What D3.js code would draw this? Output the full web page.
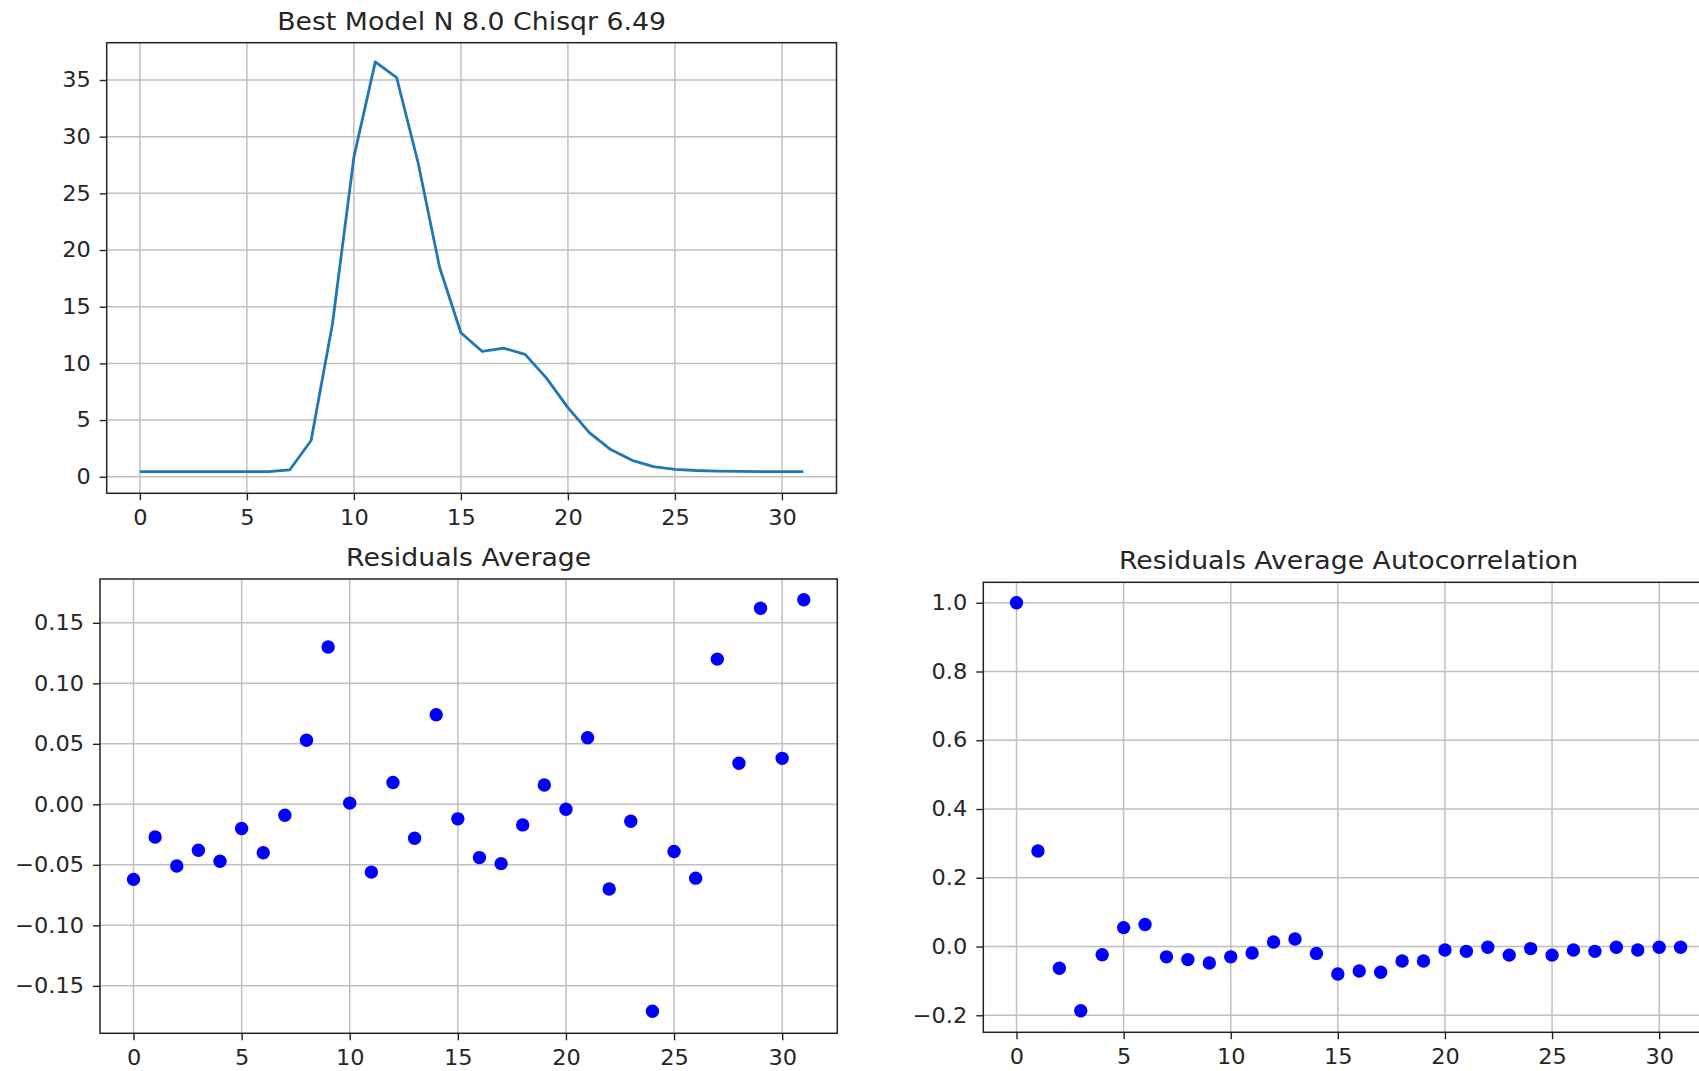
<!DOCTYPE html>
<html>
<head>
<meta charset="utf-8">
<script src="https://cdn.jsdelivr.net/npm/d3@7"></script>
<style>
  html, body { margin: 0; padding: 0; background: #fff; }
  svg { display: block; }
  text { font-family: "DejaVu Sans", sans-serif; fill: #262626; }
</style>
</head>
<body>
<div id="chart"></div>
<script>
// best model curve, index 0..31
const modelValues = [0.45, 0.45, 0.45, 0.45, 0.45, 0.45, 0.45, 0.6, 3.2, 13.5,
    28.2, 36.6, 35.2, 27.7, 18.5, 12.7, 11.05, 11.35, 10.8, 8.7,
    6.1, 3.9, 2.4, 1.45, 0.9, 0.65, 0.55, 0.5, 0.47, 0.45, 0.45, 0.45];

const residuals = [-0.062, -0.027, -0.051, -0.038, -0.047, -0.020, -0.040, -0.009, 0.053, 0.130,
    0.001, -0.056, 0.018, -0.028, 0.074, -0.012, -0.044, -0.049, -0.017, 0.016,
    -0.004, 0.055, -0.070, -0.014, -0.171, -0.039, -0.061, 0.120, 0.034, 0.162,
    0.038, 0.169];

const autocorr = [1.0, 0.278, -0.063, -0.187, -0.024, 0.055, 0.064, -0.030, -0.038, -0.048,
    -0.030, -0.019, 0.013, 0.022, -0.020, -0.080, -0.071, -0.075, -0.042, -0.042,
    -0.010, -0.014, -0.002, -0.025, -0.006, -0.025, -0.010, -0.014, -0.002, -0.010,
    -0.002, -0.002];

const xTicks = [0, 5, 10, 15, 20, 25, 30];
const modelTicks = [0, 5, 10, 15, 20, 25, 30, 35];
const residTicks = [-0.15, -0.10, -0.05, 0.00, 0.05, 0.10, 0.15];
const autoTicks = [-0.2, 0.0, 0.2, 0.4, 0.6, 0.8, 1.0];

const W = 1699, H = 1071;
const stretch = 1.07; // the reference text is a little wide
const svg = d3.select("#chart").append("svg")
    .attr("width", W)
    .attr("height", H);

function panel(box, title, xDomain, yDomain, yTicks, yFmt) {
    const g = svg.append("g");
    const x = d3.scaleLinear().domain(xDomain).range([box.left, box.right]);
    const y = d3.scaleLinear().domain(yDomain).range([box.bottom, box.top]);

    // grid
    g.append("g").selectAll("line").data(xTicks).join("line")
        .attr("x1", d => x(d)).attr("x2", d => x(d))
        .attr("y1", box.top).attr("y2", box.bottom)
        .attr("stroke", "#c0c0c0").attr("stroke-width", 1.5);
    g.append("g").selectAll("line").data(yTicks).join("line")
        .attr("x1", box.left).attr("x2", box.right)
        .attr("y1", d => y(d)).attr("y2", d => y(d))
        .attr("stroke", "#c0c0c0").attr("stroke-width", 1.5);

    const xa = g.append("g")
        .attr("transform", `translate(0, ${box.bottom})`)
        .call(d3.axisBottom(x).tickValues(xTicks).tickSize(7).tickPadding(10).tickSizeOuter(0));
    const ya = g.append("g")
        .attr("transform", `translate(${box.left}, 0)`)
        .call(d3.axisLeft(y).tickValues(yTicks).tickFormat(d3.format(yFmt)).tickSize(7).tickPadding(9).tickSizeOuter(0));
    for (const a of [xa, ya]) {
        a.select(".domain").remove();
        a.selectAll("line").attr("stroke", "#222").attr("stroke-width", 1.4);
        a.selectAll("text").attr("font-size", 21).attr("fill", "#262626")
            .attr("font-family", "DejaVu Sans, sans-serif");
    }
    // widen labels around their anchor
    xa.selectAll("text").attr("transform", `scale(${stretch},1)`);
    ya.selectAll("text")
        .attr("x", -16 / stretch)
        .attr("transform", `scale(${stretch},1)`);

    g.append("rect")
        .attr("x", box.left).attr("y", box.top)
        .attr("width", box.right - box.left).attr("height", box.bottom - box.top)
        .attr("fill", "none").attr("stroke", "#222").attr("stroke-width", 1.5);

    const cx = (box.left + box.right) / 2;
    g.append("text")
        .attr("transform", `translate(${cx}, ${box.top - 13}) scale(${stretch},1)`)
        .attr("text-anchor", "middle")
        .attr("font-size", 25)
        .text(title);

    return { g, x, y };
}

const xDom = [-1.55, 32.55];

// top: best model
const p1 = panel({ left: 106.7, right: 836.5, top: 42.7, bottom: 493.3 },
    "Best Model N 8.0 Chisqr 6.49", xDom, [-1.46, 38.29], modelTicks, "d");
p1.g.append("path")
    .datum(modelValues)
    .attr("fill", "none")
    .attr("stroke", "#1f77b4")
    .attr("stroke-width", 2.8)
    .attr("stroke-linejoin", "round")
    .attr("d", d3.line().x((d, i) => p1.x(i)).y(d => p1.y(d)));

// bottom left: residuals
const p2 = panel({ left: 100, right: 837.3, top: 579, bottom: 1033.3 },
    "Residuals Average", xDom, [-0.1892, 0.1862], residTicks, ".2f");
p2.g.append("g").selectAll("circle").data(residuals).join("circle")
    .attr("cx", (d, i) => p2.x(i))
    .attr("cy", d => p2.y(d))
    .attr("r", 6.7)
    .attr("fill", "blue");

// bottom right: autocorrelation (runs past the page edge)
const p3 = panel({ left: 983.3, right: 1713.8, top: 582.3, bottom: 1032.3 },
    "Residuals Average Autocorrelation", xDom, [-0.2495, 1.0595], autoTicks, ".1f");
p3.g.append("g").selectAll("circle").data(autocorr).join("circle")
    .attr("cx", (d, i) => p3.x(i))
    .attr("cy", d => p3.y(d))
    .attr("r", 6.7)
    .attr("fill", "blue");
</script>
</body>
</html>
